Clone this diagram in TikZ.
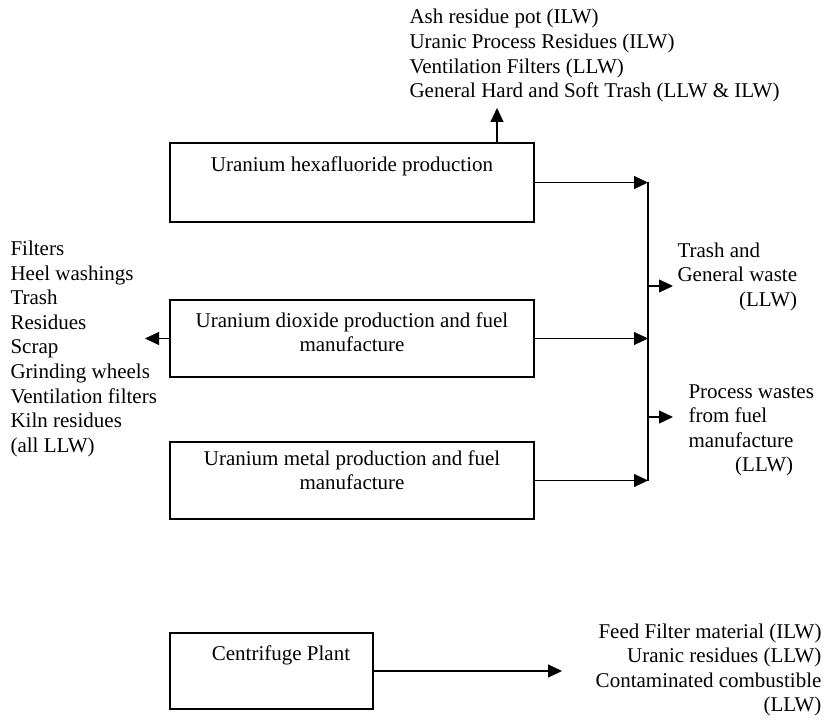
\documentclass[tikz,border=0pt]{standalone}
\usepackage{fontspec}
\setmainfont{Liberation Serif}
\usepackage{tikz}
\usetikzlibrary{arrows.meta,positioning}
\tikzset{
    plant/.style={
    rectangle,draw=black,inner sep=0pt
    },
    plantname/.style={
    anchor=base,inner sep=0pt
    },
    wastes/.style={
    anchor=base west,inner sep=0pt
    },
}
\newcommand{\wastelist}[2][l]{\begin{tabular}[t]{@{}#1@{}}#2\end{tabular}}

\begin{document}
\begin{tikzpicture}[x=1pt, y=-1pt, line width=1.1pt,
    >={Triangle[length=14pt,width=13pt]},
    font=\fontsize{21}{24.6}\selectfont]
   \path[fill=white] (0,0) rectangle (824,722);

   %plants
   \node[plant,minimum width=364pt,minimum height=79pt] (hex) at (352,182.5) {};
   \node[plant,minimum width=364pt,minimum height=77pt] (oxide) at (352,338.5) {};
   \node[plant,minimum width=364pt,minimum height=77pt] (metal) at (352,480.5) {};
   \node[plant,minimum width=203pt,minimum height=76pt] (cent) at (271.5,671) {};

   \node[plantname] (hexname) at (352,172) {Uranium hexafluoride production};
   \node[plantname] (oxidename) at (352,327) {\wastelist[c]{Uranium dioxide production and fuel\\manufacture}};
   \node[plantname] (metalname) at (352,465) {\wastelist[c]{Uranium metal production and fuel\\manufacture}};
   \node[plantname] (centname) at (281,660) {Centrifuge Plant};

   %wastes
   \node[wastes] (hexwaste) at (409,24) {\wastelist{Ash residue pot (ILW)\\Uranic Process Residues (ILW)\\Ventilation Filters (LLW)\\General Hard and Soft Trash (LLW \& ILW)}};
   \node[wastes] (oxidewaste) at (10,255.5) {\wastelist{Filters\\Heel washings\\Trash\\Residues\\Scrap\\Grinding wheels\\Ventilation filters\\Kiln residues\\(all LLW)}};
   \node[wastes] (trash) at (677,257) {\wastelist{Trash and\\General waste\\\hfill(LLW)}};
   \node[wastes] (process) at (688,398) {\wastelist{Process wastes\\from fuel\\manufacture\\\hphantom{manu}(LLW)}};
   \node[wastes,anchor=base east] (centwaste) at (822,638) {\wastelist[r]{Feed Filter material (ILW)\\Uranic residues (LLW)\\Contaminated combustible\\(LLW)}};

   %collector
   \coordinate (j1) at (648,182.5);
   \coordinate (j2) at (648,338.5);
   \coordinate (j3) at (648,480.5);
   \coordinate (o1) at (648,286);
   \coordinate (o2) at (648,417);
   \coordinate (t1) at (673,286);
   \coordinate (t2) at (673,417);
   \coordinate (hextip) at (497,108);
   \coordinate (oxidetip) at (145,338.5);
   \coordinate (centtip) at (562,671);

  \path[->]
    (hex) edge (j1)
    (oxide) edge (j2)
    (metal) edge (j3)
    (hex.north -| hextip) edge (hextip)
    (oxide) edge (oxidetip)
    (cent) edge (centtip)

    %out of the collector
    (o1) edge (t1)
    (o2) edge (t2);
  \draw (j1) -- (j3);
\end{tikzpicture}
\end{document}
